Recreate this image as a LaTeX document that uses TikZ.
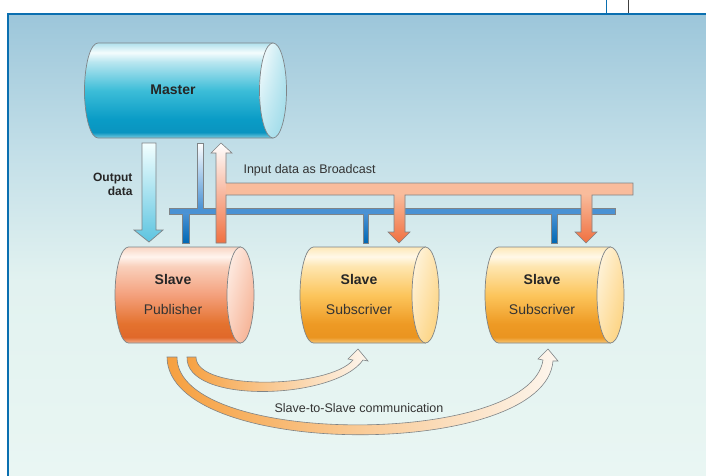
\documentclass[tikz,border=0pt]{standalone}
\usepackage{fontspec}
\setmainfont{Liberation Sans}
\usetikzlibrary{shadings}

% palette
\definecolor{framecol}{HTML}{0A6FB0}
\definecolor{outl}{HTML}{7F8487}
\definecolor{bgA}{HTML}{9CC6DA}
\definecolor{bgB}{HTML}{C3DFE8}
\definecolor{bgC}{HTML}{E2F2F0}
\definecolor{bgD}{HTML}{E9F6F3}
% master cylinder
\definecolor{mA}{HTML}{7CCDE0}
\definecolor{mB}{HTML}{0A94C0}
\definecolor{mC}{HTML}{0A9CC6}
\definecolor{mD}{HTML}{3CBDD8}
\definecolor{mE}{HTML}{B8E6F0}
\definecolor{mF}{HTML}{F4FCFD}
\definecolor{mG}{HTML}{B0E0EC}
% publisher cylinder
\definecolor{pA}{HTML}{F4B090}
\definecolor{pB}{HTML}{E0682A}
\definecolor{pC}{HTML}{E4722E}
\definecolor{pD}{HTML}{F4A07C}
\definecolor{pE}{HTML}{F9D0BC}
\definecolor{pF}{HTML}{FFF4EE}
\definecolor{pG}{HTML}{F9D6C4}
% subscriber cylinders
\definecolor{sA}{HTML}{F8C878}
\definecolor{sB}{HTML}{EA9420}
\definecolor{sC}{HTML}{EE9A24}
\definecolor{sD}{HTML}{FCC55C}
\definecolor{sE}{HTML}{FEE6B0}
\definecolor{sF}{HTML}{FFF8E8}
\definecolor{sG}{HTML}{FDE8B8}
% connectors
\definecolor{busblue}{HTML}{4A92D4}
\definecolor{dropblue}{HTML}{0068B4}
\definecolor{barsalmon}{HTML}{F9BC9C}
\definecolor{orangedeep}{HTML}{F07040}
\definecolor{cyanarrow}{HTML}{5CC4E0}
\definecolor{curveor}{HTML}{F6A040}
\definecolor{curvelight}{HTML}{FDF6EE}

\pgfdeclareverticalshading{bgshade}{100bp}{color(0bp)=(bgD); color(25bp)=(bgD); color(46bp)=(bgC); color(60bp)=(bgB); color(75bp)=(bgA); color(100bp)=(bgA)}
\pgfdeclareverticalshading{mastershade}{100bp}{color(0bp)=(mA); color(25bp)=(mA); color(28bp)=(mB); color(35bp)=(mC); color(50bp)=(mD); color(65bp)=(mE); color(70bp)=(mF); color(75bp)=(mG); color(100bp)=(mG)}
\pgfdeclareverticalshading{pubshade}{100bp}{color(0bp)=(pA); color(25bp)=(pA); color(28bp)=(pB); color(35bp)=(pC); color(50bp)=(pD); color(65bp)=(pE); color(70bp)=(pF); color(75bp)=(pG); color(100bp)=(pG)}
\pgfdeclareverticalshading{subshade}{100bp}{color(0bp)=(sA); color(25bp)=(sA); color(28bp)=(sB); color(35bp)=(sC); color(50bp)=(sD); color(65bp)=(sE); color(70bp)=(sF); color(75bp)=(sG); color(100bp)=(sG)}

\tikzset{
  outline/.style={draw=outl, line width=0.7pt, line join=miter},
  cyltitle/.style={font=\fontsize{14}{16}\selectfont\bfseries, text=black!85},
  cylsub/.style={font=\fontsize{14}{16}\selectfont, text=black!80},
  lbl/.style={font=\fontsize{12.5}{15}\selectfont, text=black!80},
  boldlbl/.style={font=\fontsize{12}{14}\selectfont\bfseries, text=black!85, align=right},
}

% #1 left end x, #2 right end x, #3 centre y, #4 y radius, #5 body shading,
% #6 light face colour, #7 dark face colour
\newcommand{\drawcyl}[7]{%
  \shade[shading=#5, outline]
    (#2,#3-#4) -- (#1,#3-#4)
    arc[start angle=270, end angle=90, x radius=13.5, y radius=#4]
    -- (#2,#3+#4) -- cycle;
  \shade[upper left=#6, upper right=#6!55!#7, lower left=#6!55!#7,
         lower right=#7, outline]
    (#2,#3) ellipse[x radius=13.5, y radius=#4];
}

\begin{document}
\begin{tikzpicture}[x=1pt, y=-1pt]
\useasboundingbox (0,0) rectangle (706,475);

% panel background and frame
\shade[shading=bgshade] (8,14) rectangle (706,475);
\draw[framecol, line width=2pt] (8,476) -- (8,14) -- (707,14);
\draw[framecol, line width=0.8pt] (606,0) -- (606,13);
\draw[black!75, line width=0.8pt] (628,0) -- (628,13);

% cylinders
\drawcyl{98}{273}{90.5}{47.5}{mastershade}{white}{mG!80!mD}
\drawcyl{128.5}{240.5}{295}{48}{pubshade}{pF}{pD!80!pE}
\drawcyl{313.5}{425.5}{295}{48}{subshade}{sF}{sD!70!sE}
\drawcyl{498.5}{610.5}{295}{48}{subshade}{sF}{sD!70!sE}

\node[cyltitle] (master) at (173,90) {Master};
\node[cyltitle] (pub) at (173,279) {Slave};
\node[cylsub] (pubrole) at (173,309) {Publisher};
\node[cyltitle] (suba) at (359,279) {Slave};
\node[cylsub] (subarole) at (359,309) {Subscriver};
\node[cyltitle] (subb) at (542,279) {Slave};
\node[cylsub] (subbrole) at (542,309) {Subscriver};

% output data arrow, master to publisher
\shade[top color=white!95!cyan, bottom color=cyanarrow, outline]
  (142,143) -- (156,143) -- (156,230) -- (163,230) -- (149,242)
  -- (134,230) -- (142,230) -- cycle;
\node[boldlbl, anchor=east] (outlbl) at (136,184.5) {Output\\data};

% blue bus with feed from the master and taps to the slaves
\fill[busblue]
  (197,143) -- (203,143) -- (203,208) -- (615,208) -- (615,214)
  -- (557,214) -- (557,243) -- (551,243) -- (551,214)
  -- (368,214) -- (368,243) -- (363,243) -- (363,214)
  -- (189,214) -- (189,243) -- (182,243) -- (182,214)
  -- (169,214) -- (169,208) -- (197,208) -- cycle;
\shade[top color=white, bottom color=busblue] (197,143) rectangle (203,208.5);
\shade[top color=busblue, bottom color=dropblue] (182,213.5) rectangle (189,243);
\shade[top color=busblue, bottom color=dropblue] (363,213.5) rectangle (368,243);
\shade[top color=busblue, bottom color=dropblue] (551,213.5) rectangle (557,243);
\draw[outline, line width=0.6pt]
  (197,143) -- (203,143) -- (203,208) -- (615,208) -- (615,214)
  -- (557,214) -- (557,243) -- (551,243) -- (551,214)
  -- (368,214) -- (368,243) -- (363,243) -- (363,214)
  -- (189,214) -- (189,243) -- (182,243) -- (182,214)
  -- (169,214) -- (169,208) -- (197,208) -- cycle;

% broadcast input: publisher up to the bar, bar down to the subscribers
\fill[barsalmon]
  (221,143) -- (232,153) -- (226,153) -- (226,183) -- (633,183)
  -- (633,195) -- (592,195) -- (592,232) -- (597,232) -- (586,243)
  -- (575,232) -- (581,232) -- (581,195)
  -- (405,195) -- (405,232) -- (410,232) -- (399,243) -- (388,232)
  -- (394,232) -- (394,195) -- (226,195) -- (226,243) -- (216,243)
  -- (216,153) -- (211,153) -- cycle;
\shade[top color=white, bottom color=orangedeep]
  (221,143) -- (232,153) -- (226,153) -- (226,243) -- (216,243)
  -- (216,153) -- (211,153) -- cycle;
\shade[top color=barsalmon, bottom color=orangedeep]
  (394,194) -- (405,194) -- (405,232) -- (410,232) -- (399,243)
  -- (388,232) -- (394,232) -- cycle;
\shade[top color=barsalmon, bottom color=orangedeep]
  (581,194) -- (592,194) -- (592,232) -- (597,232) -- (586,243)
  -- (575,232) -- (581,232) -- cycle;
\draw[outline, line width=0.6pt]
  (221,143) -- (232,153) -- (226,153) -- (226,183) -- (633,183)
  -- (633,195) -- (592,195) -- (592,232) -- (597,232) -- (586,243)
  -- (575,232) -- (581,232) -- (581,195)
  -- (405,195) -- (405,232) -- (410,232) -- (399,243) -- (388,232)
  -- (394,232) -- (394,195) -- (226,195) -- (226,243) -- (216,243)
  -- (216,153) -- (211,153) -- cycle;
\node[lbl, anchor=west] (bclbl) at (240,170) {Input data as Broadcast};

% slave-to-slave curved arrows
\shade[left color=curveor, right color=curvelight, outline, line width=0.6pt]
  (187,357) -- (196,357)
  .. controls (196,392) and (330,388) .. (353,360)
  -- (348,359) -- (358,349) -- (368,361) -- (363,360)
  .. controls (335,400) and (185,405) .. (187,357) -- cycle;
\shade[left color=curveor, right color=curvelight, outline, line width=0.6pt]
  (167,357) -- (177,357)
  .. controls (177,447) and (530,447) .. (543,360)
  -- (538,359) -- (548,349) -- (558,361) -- (553,361)
  .. controls (545,460) and (168,460) .. (167,357) -- cycle;
\node[lbl] (s2s) at (359,408) {Slave-to-Slave communication};
\end{tikzpicture}
\end{document}
